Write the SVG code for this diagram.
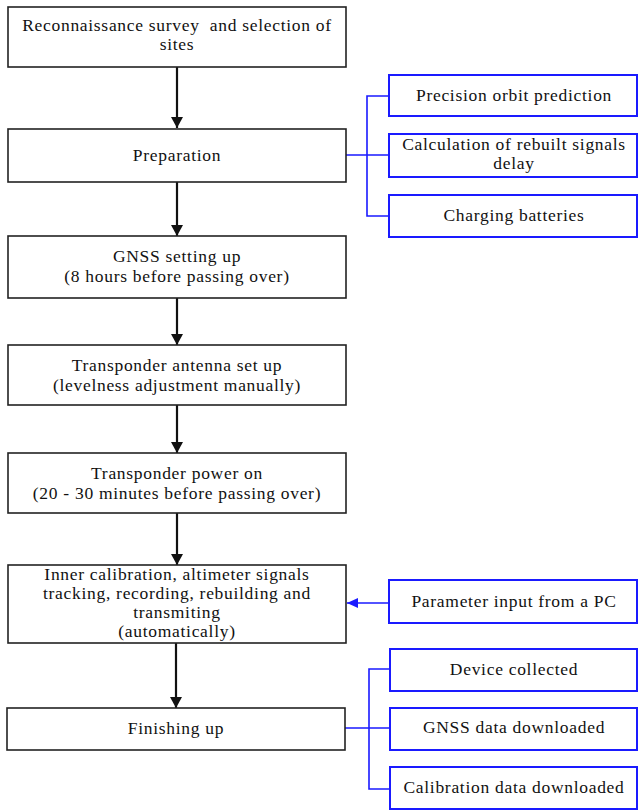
<svg xmlns="http://www.w3.org/2000/svg" width="638" height="810" viewBox="0 0 638 810">
<defs>
<style>
.box{fill:#fff;stroke:#222;stroke-width:1.6}
.bbox{fill:#fff;stroke:#1a1aff;stroke-width:2}
.t{font-family:"Liberation Serif","Times New Roman",serif;font-size:17.5px;letter-spacing:0.7px;fill:#111;text-anchor:middle}
.arr{stroke:#111;stroke-width:2.2;fill:none}
.blu{stroke:#1a1aff;stroke-width:1.6;fill:none}
</style>
<marker id="ah" markerWidth="12" markerHeight="12" refX="11" refY="6" orient="auto" markerUnits="userSpaceOnUse">
<path d="M0,0 L11,6 L0,12 z" fill="#111"/>
</marker>
<marker id="bh" markerWidth="12" markerHeight="10" refX="11" refY="5" orient="auto" markerUnits="userSpaceOnUse">
<path d="M0,0 L11,5 L0,10 z" fill="#1a1aff"/>
</marker>
</defs>
<rect width="638" height="810" fill="#fff"/>
<g id="connectors">
<line class="arr" x1="177" y1="67" x2="177" y2="128" marker-end="url(#ah)"/>
<line class="arr" x1="177" y1="182" x2="177" y2="236" marker-end="url(#ah)"/>
<line class="arr" x1="177" y1="298" x2="177" y2="345" marker-end="url(#ah)"/>
<line class="arr" x1="177" y1="405" x2="177" y2="453" marker-end="url(#ah)"/>
<line class="arr" x1="177" y1="513" x2="177" y2="565" marker-end="url(#ah)"/>
<line class="arr" x1="176" y1="643" x2="176" y2="708" marker-end="url(#ah)"/>
<path class="blu" d="M346,155 H389 M389,96 H367 V216 H389"/>
<path class="blu" d="M345,728 H389 M389,669 H369 V789 H389"/>
<line class="blu" x1="389" y1="603" x2="347" y2="603" marker-end="url(#bh)"/>
</g>
<g id="n1"><rect class="box" x="8" y="7" width="338" height="60"/>
<text class="t" x="177" y="31" xml:space="preserve">Reconnaissance survey  and selection of</text>
<text class="t" x="177" y="50">sites</text></g>
<g id="n2"><rect class="box" x="8" y="129" width="338" height="53"/>
<text class="t" x="177" y="161">Preparation</text></g>
<g id="n3"><rect class="box" x="8" y="236" width="338" height="62"/>
<text class="t" x="177" y="262">GNSS setting up</text>
<text class="t" x="177" y="282">(8 hours before passing over)</text></g>
<g id="n4"><rect class="box" x="8" y="345" width="338" height="60"/>
<text class="t" x="177" y="371">Transponder antenna set up</text>
<text class="t" x="177" y="391">(levelness adjustment manually)</text></g>
<g id="n5"><rect class="box" x="8" y="453" width="338" height="60"/>
<text class="t" x="177" y="479">Transponder power on</text>
<text class="t" x="177" y="499">(20 - 30 minutes before passing over)</text></g>
<g id="n6"><rect class="box" x="8" y="565" width="338" height="78"/>
<text class="t" x="177" y="580">Inner calibration, altimeter signals</text>
<text class="t" x="177" y="599">tracking, recording, rebuilding and</text>
<text class="t" x="177" y="618">transmiting</text>
<text class="t" x="177" y="637">(automatically)</text></g>
<g id="n7"><rect class="box" x="7" y="708" width="338" height="42"/>
<text class="t" x="176" y="734">Finishing up</text></g>
<g id="r1"><rect class="bbox" x="389" y="75" width="248" height="41"/>
<text class="t" x="514" y="101">Precision orbit prediction</text></g>
<g id="r2"><rect class="bbox" x="389" y="134" width="248" height="43"/>
<text class="t" x="514" y="150">Calculation of rebuilt signals</text>
<text class="t" x="514" y="169">delay</text></g>
<g id="r3"><rect class="bbox" x="389" y="195" width="248" height="42"/>
<text class="t" x="514" y="221">Charging batteries</text></g>
<g id="r4"><rect class="bbox" x="389" y="580" width="248" height="43"/>
<text class="t" x="514" y="607">Parameter input from a PC</text></g>
<g id="r5"><rect class="bbox" x="390" y="649" width="247" height="42"/>
<text class="t" x="514" y="675">Device collected</text></g>
<g id="r6"><rect class="bbox" x="390" y="708" width="247" height="42"/>
<text class="t" x="514" y="733">GNSS data downloaded</text></g>
<g id="r7"><rect class="bbox" x="390" y="767" width="247" height="42"/>
<text class="t" x="514" y="793">Calibration data downloaded</text></g>
</svg>
